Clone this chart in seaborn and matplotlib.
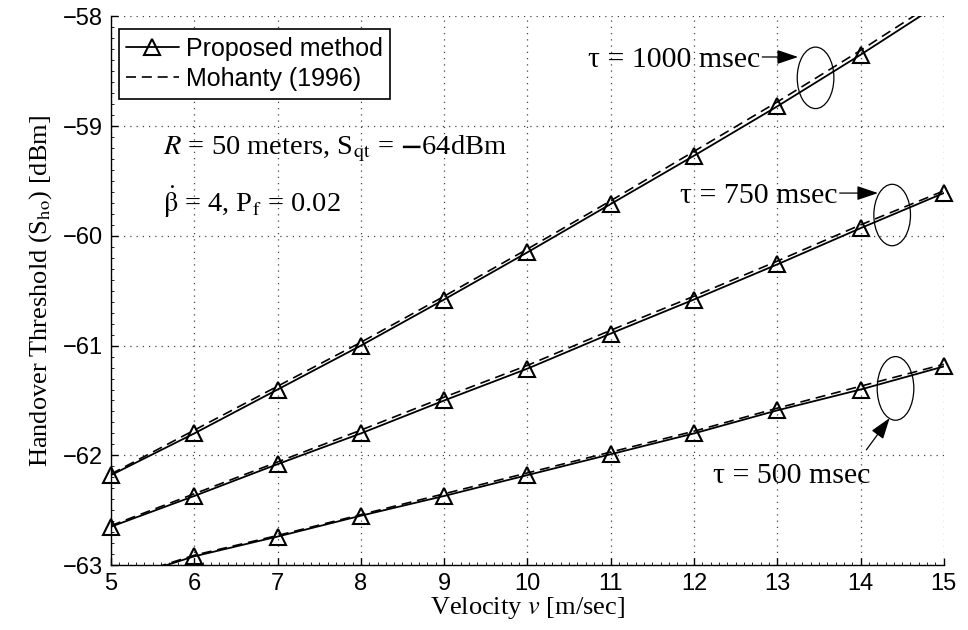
import numpy as np
import pandas as pd
import matplotlib
matplotlib.use("Agg")
import matplotlib.pyplot as plt
import seaborn as sns
from matplotlib.lines import Line2D
from matplotlib.patches import Ellipse
from matplotlib.ticker import MultipleLocator

velocity = [5, 6, 7, 8, 9, 10, 11, 12, 13, 14, 15]

prop_1000 = [-62.18, -61.80, -61.40, -61.00, -60.58, -60.15, -59.71, -59.27, -58.82, -58.35, -57.86]
moh_1000 = [-62.17, -61.77, -61.37, -60.97, -60.55, -60.12, -59.68, -59.23, -58.78, -58.31, -57.82]
prop_750 = [-62.65, -62.37, -62.08, -61.80, -61.50, -61.21, -60.89, -60.58, -60.26, -59.93, -59.61]
moh_750 = [-62.64, -62.35, -62.06, -61.77, -61.47, -61.18, -60.86, -60.55, -60.23, -59.90, -59.59]
prop_500 = [-63.16, -62.92, -62.74, -62.55, -62.37, -62.18, -61.99, -61.80, -61.59, -61.40, -61.19]
moh_500 = [-63.15, -62.91, -62.73, -62.54, -62.35, -62.16, -61.97, -61.78, -61.57, -61.37, -61.17]

tau_labels = ["τ = 1000 msec", "τ = 750 msec", "τ = 500 msec"]
legend_labels = ["Proposed method", "Mohanty (1996)"]
xticks = [5, 6, 7, 8, 9, 10, 11, 12, 13, 14, 15]
yticks = [-63, -62, -61, -60, -59, -58]

sns.set_style("ticks")
plt.rcParams["mathtext.fontset"] = "stix"
plt.rcParams["font.family"] = ["Liberation Sans", "DejaVu Sans"]
for k in ["text.color", "axes.labelcolor", "xtick.color", "ytick.color", "axes.edgecolor"]:
    plt.rcParams[k] = "black"

fig = plt.figure(figsize=(9.68, 6.3), dpi=100)
ax = fig.add_axes([0.1147, 0.103, 0.8603, 0.871])

ylo, yhi = -63, -58
dash = (0, (6, 3.5))
for prop, moh in [(prop_1000, moh_1000), (prop_750, moh_750), (prop_500, moh_500)]:
    df = pd.DataFrame({"v": velocity, "p": prop, "m": moh})
    sns.lineplot(data=df, x="v", y="m", ax=ax, color="k", lw=1.2,
                 linestyle=dash, legend=False)
    sns.lineplot(data=df, x="v", y="p", ax=ax, color="k", lw=1.3, legend=False)
    inr = df[(df["p"] >= ylo - 0.01) & (df["p"] <= yhi)]
    sns.lineplot(data=inr, x="v", y="p", ax=ax, color="k", linestyle="",
                 marker="^", ms=12, mfc="none", mec="k", mew=1.5,
                 clip_on=False, legend=False)

ax.set_xlim(5, 15)
ax.set_ylim(ylo, yhi)
ax.set_xticks(xticks)
ax.set_yticks(yticks)
ax.set_xticklabels([str(t) for t in xticks])
ax.set_yticklabels(["\u2212%d" % abs(t) for t in yticks])
ax.xaxis.set_minor_locator(MultipleLocator(0.1))
ax.yaxis.set_minor_locator(MultipleLocator(0.1))
ax.tick_params(axis="both", which="major", labelsize=17, direction="in",
               length=5, width=1, pad=6)
ax.tick_params(axis="both", which="minor", direction="in", length=2.5, width=0.6)
ax.grid(True, which="major", linestyle=(0, (1, 4)), color="#444444", lw=0.9)
for s in ["top", "right"]:
    ax.spines[s].set_visible(False)
for s in ["left", "bottom"]:
    ax.spines[s].set_linewidth(1.0)
    ax.spines[s].set_color("k")

ax.set_xlabel("Velocity $\\mathit{v}$ [m/sec]", family="Liberation Serif",
              fontsize=19, labelpad=0)
ax.set_ylabel("Handover Threshold (S$_{\\rm ho}$) [dBm]", family="Liberation Serif",
              fontsize=19, labelpad=6)

# legend
handles = [Line2D([], [], color="k", lw=1.3, marker="^", ms=12, mfc="none", mew=1.5),
           Line2D([], [], color="k", lw=1.2, linestyle=dash)]
leg = ax.legend(handles, legend_labels, loc="upper left", bbox_to_anchor=(0.0, 0.99),
                fontsize=18, frameon=True, fancybox=False, framealpha=1,
                edgecolor="k", handlelength=2.1, handletextpad=0.3,
                borderpad=0.3, labelspacing=0.25, borderaxespad=0.3)
leg.get_frame().set_linewidth(1.2)

# parameter text
ax.text(5.62, -59.26, "$R$ = 50 meters, S$_{\\rm qt}$ = $\\mathbf{-}$64dBm",
        family="Liberation Serif", fontsize=20.5, va="baseline", ha="left")
ax.text(5.62, -59.78, "$\\dot{\\mathrm{\\beta}}$ = 4, P$_{\\rm f}$ = 0.02",
        family="Liberation Serif", fontsize=20.5, va="baseline", ha="left")

# ellipses
for (cx, cy, w, h) in [(13.46, -58.56, 0.44, 0.56), (14.38, -59.81, 0.44, 0.56),
                       (14.42, -61.39, 0.44, 0.58)]:
    ax.add_patch(Ellipse((cx, cy), w, h, fill=False, ec="k", lw=0.9))

# annotations
arrow = dict(arrowstyle="-|>,head_length=0.65,head_width=0.22", color="k", lw=0.9,
             shrinkA=0, shrinkB=0, mutation_scale=20)
ax.text(12.79, -58.46, tau_labels[0], family="Liberation Serif", fontsize=21.5,
        ha="right", va="baseline")
ax.annotate("", xy=(13.25, -58.37), xytext=(12.82, -58.37), arrowprops=arrow)
ax.text(13.72, -59.70, tau_labels[1], family="Liberation Serif", fontsize=21.5,
        ha="right", va="baseline")
ax.annotate("", xy=(14.21, -59.61), xytext=(13.75, -59.61), arrowprops=arrow)
ax.text(12.23, -62.25, tau_labels[2], family="Liberation Serif", fontsize=21.5,
        ha="left", va="baseline")
ax.annotate("", xy=(14.35, -61.66), xytext=(14.07, -61.95), arrowprops=arrow)

fig.savefig("out.png", dpi=100)
